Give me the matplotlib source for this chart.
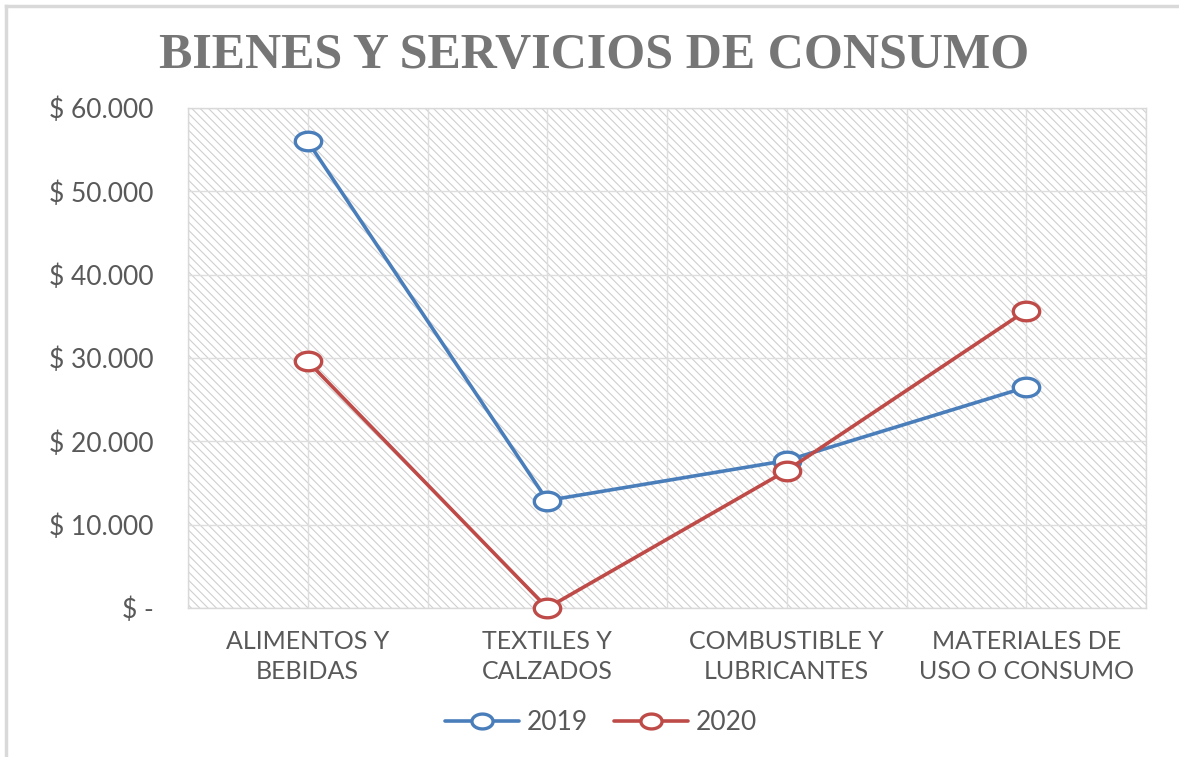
import numpy as np
import matplotlib
matplotlib.use("Agg")
import matplotlib.pyplot as plt
from matplotlib.path import Path
from matplotlib.patches import Rectangle
from matplotlib.lines import Line2D
from matplotlib.ticker import FuncFormatter, MultipleLocator

categories = ["ALIMENTOS Y\nBEBIDAS", "TEXTILES Y\nCALZADOS",
              "COMBUSTIBLE Y\nLUBRICANTES", "MATERIALES DE\nUSO O CONSUMO"]
series_names = ["2019", "2020"]
values_2019 = [56000, 12900, 17700, 26500]
values_2020 = [29600, 0, 16500, 35700]
colors = ["#4a7ebb", "#be4b48"]
title = "BIENES Y SERVICIOS DE CONSUMO"

plt.rcParams['font.family'] = ['Lato', 'DejaVu Sans']
plt.rcParams['hatch.linewidth'] = 0.8

fig = plt.figure(figsize=(11.79, 7.57), dpi=100)
ax = fig.add_axes([188/1179, 1 - 608/757, (1146-188)/1179, (608-108)/757])

# hatched plot background
bg = Rectangle((0, 0), 1, 1, transform=ax.transAxes, facecolor='white',
               edgecolor='#cfcfcf', hatch='\\\\\\\\', lw=0, zorder=0)
ax.add_patch(bg)

# elliptical hollow marker (reference image is horizontally stretched)
t = np.linspace(0, 2*np.pi, 60)
ell = Path(np.column_stack([1.42*np.cos(t), np.sin(t)]), closed=True)

x = np.arange(len(categories))
for vals, name, c in zip([values_2019, values_2020], series_names, colors):
    ax.plot(x, vals, color=c, lw=2.6, marker=ell, markersize=19,
            markerfacecolor='white', markeredgecolor=c, markeredgewidth=2.4,
            label=name, zorder=3, clip_on=False, solid_capstyle='round')

ax.set_xlim(-0.5, len(categories) - 0.5)
ax.set_ylim(0, 60000)
ax.yaxis.set_major_locator(MultipleLocator(10000))
ax.set_xticks(x)
ax.set_xticklabels(categories)
ax.set_xticks(np.arange(-0.5, len(categories), 1.0), minor=True)
ax.xaxis.grid(True, which='major', color='#dedede', lw=1, zorder=1)
ax.xaxis.grid(True, which='minor', color='#dedede', lw=1, zorder=1)
ax.yaxis.grid(True, color='#dedede', lw=1, zorder=1)
ax.set_axisbelow(True)

def fmt(v, pos):
    if v == 0:
        return "$ -"
    return "$ " + f"{int(v):,}".replace(",", ".")
ax.yaxis.set_major_formatter(FuncFormatter(fmt))

ax.tick_params(axis='y', length=0, pad=25, labelsize=19, labelcolor='#595959')
ax.tick_params(axis='x', which='both', length=0, labelsize=18, labelcolor='#595959', pad=16)
for lab in ax.get_xticklabels():
    lab.set_linespacing(1.35)

for s in ax.spines.values():
    s.set_color('#d9d9d9')
    s.set_linewidth(1)

fig.text(0.504, 0.926, title, ha='center', va='center', fontsize=36,
         fontweight='bold', color='#767676', family=['Liberation Serif'])

leg = fig.legend(loc='center', bbox_to_anchor=(0.51, 0.045), ncol=2, frameon=False,
                 fontsize=19, handlelength=2.8, columnspacing=1.0, handletextpad=0.3,
                 markerscale=0.8)
for txt in leg.get_texts():
    txt.set_color('#595959')

# outer chart frame (top and left edges visible)
fig.add_artist(Line2D([6/1179, 6/1179], [0, 1 - 6/757], transform=fig.transFigure,
                      color='#d9d9d9', lw=2.5))
fig.add_artist(Line2D([6/1179, 1], [1 - 6/757, 1 - 6/757], transform=fig.transFigure,
                      color='#d9d9d9', lw=2.5))

fig.savefig("out.png", dpi=100)
